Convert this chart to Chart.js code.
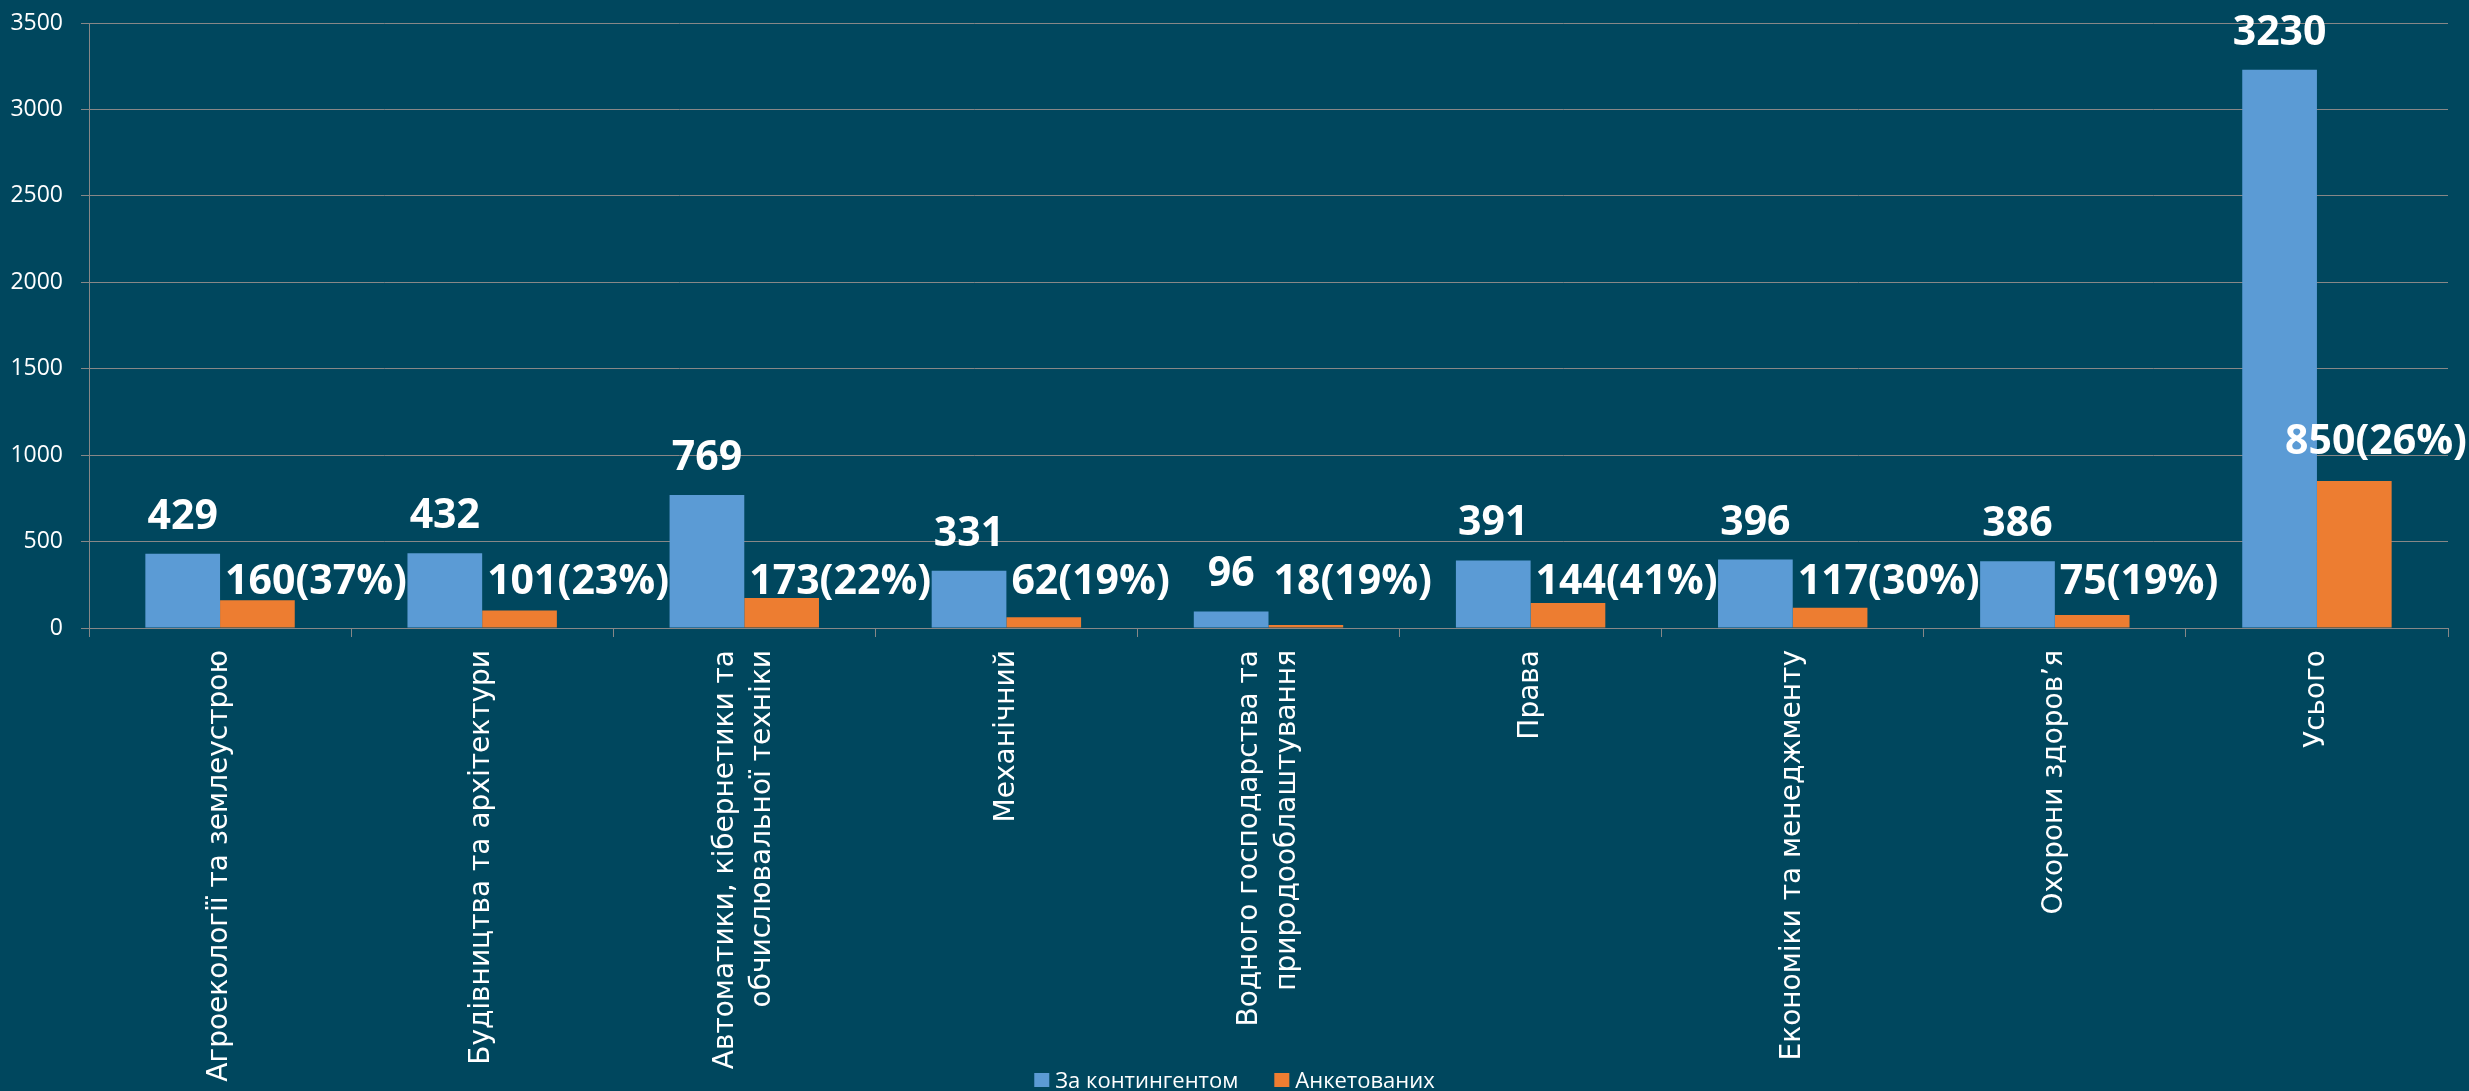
<!DOCTYPE html>
<html><head><meta charset="utf-8">
<script src="https://cdn.jsdelivr.net/npm/chart.js@4.4.0/dist/chart.umd.min.js"></script>
<style>html,body{margin:0;padding:0;background:#00475E;overflow:hidden}canvas{display:block}</style>
</head><body>
<canvas id="c" width="2469" height="1091"></canvas>
<script>
const categories = [
  'Агроекології та землеустрою',
  'Будівництва та архітектури',
  ['Автоматики, кібернетики та', 'обчислювальної техніки'],
  'Механічний',
  ['Водного господарства та', 'природооблаштування'],
  'Права',
  'Економіки та менеджменту',
  'Охорони здоров’я',
  'Усього'
];
const seriesNames = ['За контингентом', 'Анкетованих'];
const contingent = [429, 432, 769, 331, 96, 391, 396, 386, 3230];
const surveyed = [160, 101, 173, 62, 18, 144, 117, 75, 850];
const surveyedPct = [37, 23, 22, 19, 19, 41, 30, 19, 26];
const yMin = 0, yMax = 3500, yStep = 500;

const BG = '#00475E';
const GRID = '#878787';
const BLUE = '#5B9BD5';
const ORANGE = '#ED7D31';

// centre multi-line rotated category labels on their tick
const CatScale = Chart.registry.getScale('category');
const origCompute = CatScale.prototype._computeLabelItems;
CatScale.prototype._computeLabelItems = function (area) {
  const items = origCompute.call(this, area);
  items.forEach(it => {
    if (Array.isArray(it.label) && it.label.length > 1) {
      it.textOffset -= (it.label.length - 1) * it.font.lineHeight / 2;
    }
  });
  return items;
};

const bgPlugin = {
  id: 'bg',
  beforeDraw(chart) {
    const c = chart.ctx;
    c.save();
    c.fillStyle = BG;
    c.fillRect(0, 0, chart.width, chart.height);
    c.restore();
  }
};

const labelPlugin = {
  id: 'valueLabels',
  afterDatasetsDraw(chart) {
    const ctx = chart.ctx;
    const zeroY = chart.scales.y.getPixelForValue(0);
    ctx.save();
    ctx.font = 'bold 41px "Open Sans"';
    ctx.fillStyle = '#FFFFFF';
    ctx.textBaseline = 'alphabetic';
    chart.getDatasetMeta(0).data.forEach((bar, i) => {
      ctx.textAlign = 'center';
      ctx.fillText(String(contingent[i]), bar.x, bar.y - 25);
    });
    chart.getDatasetMeta(1).data.forEach((bar, i) => {
      const txt = surveyed[i] + '(' + surveyedPct[i] + '%)';
      const w = ctx.measureText(txt).width;
      let x = bar.x - bar.width / 2 + 5;
      x = Math.min(x, chart.width - w - 2);
      const natural = bar.y - 27;
      const floor = zeroY - 34;
      const y = natural < floor - 60 ? natural : floor;
      ctx.textAlign = 'left';
      ctx.fillText(txt, x, y);
    });
    ctx.restore();
  }
};

// legend drawn from the datasets (names + colours)
const legendPlugin = {
  id: 'bottomLegend',
  afterDraw(chart) {
    const ctx = chart.ctx;
    ctx.save();
    ctx.font = '22px "Open Sans"';
    ctx.textBaseline = 'alphabetic';
    ctx.textAlign = 'left';
    const box = 15, boxH = 14, gap = 6, itemGap = 36;
    const items = chart.data.datasets.map(d => ({ text: d.label, color: d.backgroundColor, w: ctx.measureText(d.label).width }));
    const total = items.reduce((s, it) => s + box + gap + it.w, 0) + itemGap * (items.length - 1);
    let x = (chart.width - total) / 2;
    const boxTop = 1073;
    items.forEach(it => {
      ctx.fillStyle = it.color;
      ctx.fillRect(x, boxTop, box, boxH);
      ctx.fillStyle = '#FFFFFF';
      ctx.fillText(it.text, x + box + gap, boxTop + boxH + 1);
      x += box + gap + it.w + itemGap;
    });
    ctx.restore();
  }
};

new Chart(document.getElementById('c'), {
  type: 'bar',
  data: {
    labels: categories,
    datasets: [
      { label: seriesNames[0], data: contingent, backgroundColor: BLUE, borderWidth: 0 },
      { label: seriesNames[1], data: surveyed, backgroundColor: ORANGE, borderWidth: 0 }
    ]
  },
  options: {
    responsive: false,
    animation: false,
    devicePixelRatio: 1,
    categoryPercentage: 0.57,
    barPercentage: 1.0,
    layout: { padding: { top: 23, right: 21, left: 0, bottom: 0 } },
    plugins: {
      tooltip: { enabled: false },
      legend: { display: false }
    },
    scales: {
      x: {
        offset: true,
        grid: { display: true, drawOnChartArea: false, drawTicks: true, tickLength: 9, color: GRID, lineWidth: 1, offset: true },
        border: { display: true, color: GRID, width: 1 },
        ticks: {
          color: '#FFFFFF',
          autoSkip: false,
          minRotation: 90,
          maxRotation: 90,
          padding: 13,
          font: { family: 'DejaVu Sans', size: 28, lineHeight: 1.35 }
        },
        afterFit(s) { s.height = 463; s.paddingLeft = 0; s.paddingRight = 0; }
      },
      y: {
        min: yMin, max: yMax,
        grid: { color: GRID, lineWidth: 1, tickLength: 8, drawTicks: true },
        border: { display: true, color: GRID, width: 1 },
        ticks: {
          stepSize: yStep,
          color: '#FFFFFF',
          padding: 18,
          font: { family: 'Open Sans', size: 23 },
          callback: v => String(v)
        },
        afterFit(s) { s.width = 89; s.paddingTop = 0; s.paddingBottom = 0; }
      }
    }
  },
  plugins: [bgPlugin, labelPlugin, legendPlugin]
});
</script>
</body></html>
